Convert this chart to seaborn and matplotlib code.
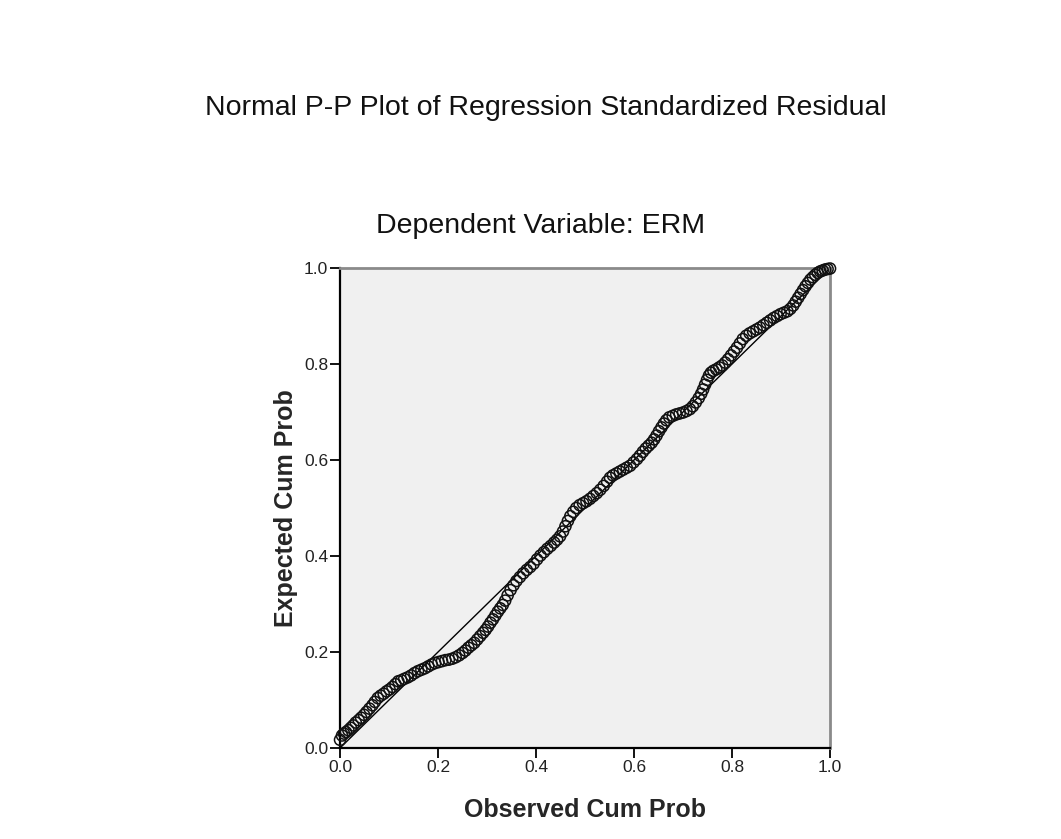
import matplotlib
matplotlib.use("Agg")
import matplotlib.pyplot as plt
import seaborn as sns
import pandas as pd

# observed cumulative probability (x)
observed = [0.000, 0.004, 0.008, 0.012, 0.017, 0.022, 0.027, 0.032, 0.038, 0.043,
            0.049, 0.054, 0.060, 0.066, 0.071, 0.077, 0.083, 0.089, 0.095, 0.101,
            0.107, 0.113, 0.119, 0.125, 0.131, 0.138, 0.145, 0.152, 0.159, 0.166,
            0.173, 0.180, 0.187, 0.194, 0.201, 0.208, 0.215, 0.222, 0.229, 0.236,
            0.243, 0.250, 0.256, 0.262, 0.268, 0.274, 0.280, 0.286, 0.292, 0.297,
            0.302, 0.307, 0.312, 0.317, 0.322, 0.327, 0.332, 0.337, 0.342, 0.348,
            0.354, 0.360, 0.367, 0.374, 0.381, 0.388, 0.395, 0.402, 0.409, 0.416,
            0.423, 0.430, 0.437, 0.443, 0.449, 0.455, 0.460, 0.465, 0.470, 0.476,
            0.482, 0.489, 0.496, 0.503, 0.510, 0.517, 0.524, 0.531, 0.538, 0.545,
            0.551, 0.557, 0.564, 0.571, 0.578, 0.585, 0.592, 0.599, 0.606, 0.612,
            0.618, 0.624, 0.630, 0.636, 0.641, 0.646, 0.651, 0.656, 0.661, 0.666,
            0.672, 0.679, 0.686, 0.693, 0.700, 0.707, 0.714, 0.720, 0.726, 0.732,
            0.737, 0.741, 0.745, 0.749, 0.753, 0.757, 0.762, 0.768, 0.774, 0.780,
            0.786, 0.792, 0.798, 0.804, 0.810, 0.816, 0.822, 0.829, 0.836, 0.843,
            0.850, 0.857, 0.864, 0.871, 0.878, 0.885, 0.892, 0.899, 0.906, 0.913,
            0.919, 0.925, 0.930, 0.935, 0.940, 0.945, 0.950, 0.955, 0.960, 0.965,
            0.970, 0.975, 0.980, 0.985, 0.990, 0.995, 1.000]

# expected cumulative probability (y)
expected = [0.017, 0.026, 0.030, 0.033, 0.037, 0.042, 0.047, 0.053, 0.058, 0.063,
            0.069, 0.075, 0.082, 0.089, 0.096, 0.104, 0.109, 0.113, 0.118, 0.122,
            0.127, 0.133, 0.139, 0.141, 0.144, 0.147, 0.151, 0.156, 0.160, 0.163,
            0.166, 0.170, 0.174, 0.177, 0.179, 0.181, 0.183, 0.184, 0.186, 0.189,
            0.193, 0.198, 0.203, 0.209, 0.214, 0.219, 0.226, 0.233, 0.240, 0.246,
            0.253, 0.261, 0.268, 0.276, 0.284, 0.291, 0.298, 0.307, 0.318, 0.329,
            0.339, 0.348, 0.356, 0.364, 0.371, 0.377, 0.384, 0.393, 0.401, 0.408,
            0.415, 0.421, 0.428, 0.434, 0.441, 0.451, 0.462, 0.473, 0.483, 0.492,
            0.500, 0.506, 0.510, 0.514, 0.519, 0.525, 0.531, 0.538, 0.546, 0.555,
            0.563, 0.568, 0.572, 0.576, 0.580, 0.584, 0.588, 0.595, 0.602, 0.609,
            0.617, 0.624, 0.630, 0.636, 0.643, 0.651, 0.660, 0.668, 0.676, 0.683,
            0.689, 0.692, 0.695, 0.697, 0.699, 0.702, 0.706, 0.712, 0.720, 0.729,
            0.738, 0.747, 0.757, 0.767, 0.776, 0.782, 0.786, 0.789, 0.793, 0.797,
            0.803, 0.810, 0.818, 0.826, 0.834, 0.843, 0.852, 0.859, 0.864, 0.868,
            0.872, 0.876, 0.881, 0.886, 0.891, 0.896, 0.900, 0.904, 0.907, 0.910,
            0.915, 0.922, 0.930, 0.938, 0.946, 0.954, 0.962, 0.969, 0.976, 0.981,
            0.986, 0.990, 0.993, 0.995, 0.997, 0.998, 0.999]

ref_line = [0.0, 1.0]
ticks = [0.0, 0.2, 0.4, 0.6, 0.8, 1.0]
tick_labels = ["0.0", "0.2", "0.4", "0.6", "0.8", "1.0"]

df = pd.DataFrame({"Observed Cum Prob": observed, "Expected Cum Prob": expected})

sns.set_style("white")
plt.rcParams["font.family"] = ["Liberation Sans", "DejaVu Sans"]

fig = plt.figure(figsize=(10.61, 8.39), dpi=100)
fig.patch.set_facecolor("white")
ax = fig.add_axes([0.3205, 0.1085, 0.4618, 0.572])
ax.set_facecolor("#f0f0f0")

# diagonal reference line
sns.lineplot(x=ref_line, y=ref_line, color="black", linewidth=1.0, ax=ax, zorder=2)

sns.scatterplot(data=df, x="Observed Cum Prob", y="Expected Cum Prob", ax=ax,
                marker="o", s=64, facecolors="none", edgecolor="#111111",
                linewidth=1.1, zorder=3, clip_on=False)

ax.set_xlim(0, 1)
ax.set_ylim(0, 1)
ax.set_xticks(ticks)
ax.set_xticklabels(tick_labels)
ax.set_yticks(ticks)
ax.set_yticklabels(tick_labels)
ax.tick_params(direction="out", length=7.5, width=1.3, color="black",
               labelsize=12.5, labelcolor="#222222", pad=1)
ax.tick_params(axis="x", bottom=True)
ax.tick_params(axis="y", left=True)

for side in ["left", "bottom"]:
    ax.spines[side].set_color("black")
    ax.spines[side].set_linewidth(1.6)
for side in ["top", "right"]:
    ax.spines[side].set_color("#8a8a8a")
    ax.spines[side].set_linewidth(2.0)

ax.set_xlabel("Observed Cum Prob", fontsize=18, fontweight="bold")
ax.set_ylabel("Expected Cum Prob", fontsize=18, fontweight="bold")
ax.xaxis.set_label_coords(0.5, -0.104)
ax.yaxis.set_label_coords(-0.086, 0.5)

fig.text(0.514, 1 - 115 / 839, "Normal P-P Plot of Regression Standardized Residual",
         ha="center", va="baseline", fontsize=20.5, color="#111111")
fig.text(0.5095, 1 - 233 / 839, "Dependent Variable: ERM",
         ha="center", va="baseline", fontsize=20.5, color="#111111")

fig.savefig("out.png", dpi=100, facecolor="white")
